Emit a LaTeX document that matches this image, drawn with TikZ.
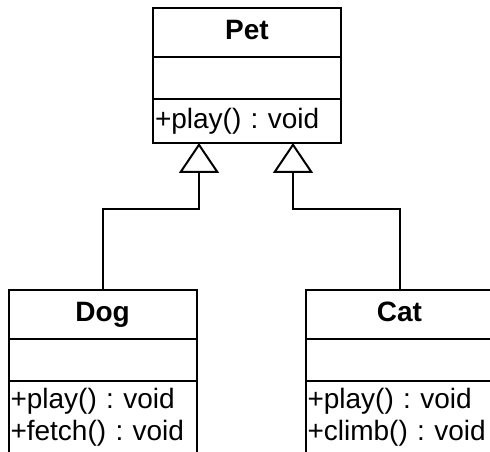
\documentclass[tikz,border=0pt]{standalone}
\usepackage{fontspec}
\setmainfont{Liberation Sans}
\usetikzlibrary{positioning, arrows.meta}

\begin{document}
\frenchspacing
\begin{tikzpicture}[x=1pt, y=1pt,
every node/.style = {outer sep=0pt},
head/.style = {draw, line width=2pt, minimum width=188pt, minimum height=49pt, inner sep=0pt,
               text height=20pt, text depth=6pt, font=\bfseries\fontsize{28}{32}\selectfont},
attr/.style = {draw, line width=2pt, minimum width=188pt, minimum height=42pt, inner sep=0pt},
oper/.style = {draw, line width=2pt, text width=184pt, inner xsep=2pt, inner ysep=0pt,
               align=left, font=\fontsize{28}{32}\selectfont},
gen/.style  = {line width=2pt, -{Triangle[open, width=40pt, length=30pt, fill=white]}},
node distance = 0pt
                        ]
\clip (0,0) rectangle (490,452);
% Pet
\node[head] (pet) at (247,419.5) {Pet};
\node[attr, below=of pet] (pet attr) {};
\node[oper, below=of pet attr, minimum height=44pt] (pet op) {+play() : void};
% Dog
\node[head] (dog) at (102.5,137.5) {Dog};
\node[attr, below=of dog] (dog attr) {};
\node[oper, below=of dog attr, minimum height=73pt] (dog op) {+play() : void\\+fetch() : void};
% Cat
\node[head] (cat) at (399.5,137.5) {Cat};
\node[attr, below=of cat] (cat attr) {};
\node[oper, below=of cat attr, minimum height=73pt] (cat op) {+play() : void\\+climb() : void};
%
\draw[gen] (dog.north) |- ([xshift=-48pt, yshift=-66pt]pet op.south) -- ([xshift=-48pt]pet op.south);
\draw[gen] (cat.north) |- ([xshift=46pt, yshift=-66pt]pet op.south) -- ([xshift=46pt]pet op.south);

\end{tikzpicture}
\end{document}
